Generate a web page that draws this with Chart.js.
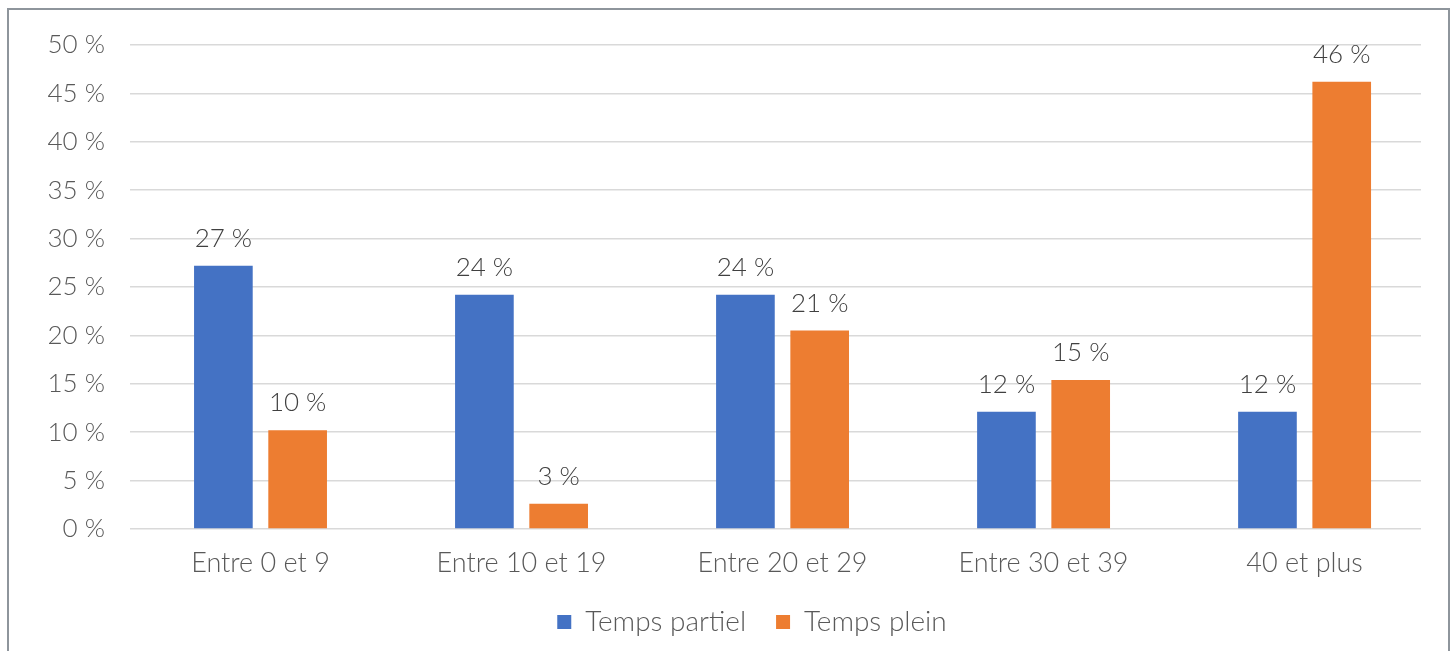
<!DOCTYPE html>
<html>
<head>
<meta charset="utf-8">
<script src="https://cdn.jsdelivr.net/npm/chart.js@4"></script>
<style>
    html, body { margin: 0; padding: 0; background: #fff; overflow: hidden; }
    #wrap { position: relative; width: 1453px; height: 651px; }
    #frame {
        position: absolute; left: 7px; top: 8px; width: 1439px; height: 700px;
        border: 2px solid #8e959c; pointer-events: none;
    }
</style>
</head>
<body>
<div id="wrap">
    <canvas id="myChart" width="1453" height="651"></canvas>
    <div id="frame"></div>
</div>
<script>
const categories = ['Entre 0 et 9', 'Entre 10 et 19', 'Entre 20 et 29', 'Entre 30 et 39', '40 et plus'];
const partiel = [27.2, 24.2, 24.2, 12.1, 12.1];
const plein = [10.2, 2.6, 20.5, 15.4, 46.2];
const yTicks = [0, 5, 10, 15, 20, 25, 30, 35, 40, 45, 50];

const FONT = 'Lato, "Open Sans", sans-serif';
const font = { family: FONT, size: 26, weight: '300' };

// labels above each bar, like Excel's outside-end data labels
const barLabels = {
    id: 'barLabels',
    afterLayout(chart) {
        // Excel centres the legend a bit right of the canvas middle
        const leg = chart.legend;
        const dx = 752 - (leg.left + leg.right) / 2;
        leg.left += dx;
        leg.right += dx;
    },
    afterDatasetsDraw(chart) {
        const ctx = chart.ctx;
        ctx.save();
        ctx.font = '300 26px ' + FONT;
        ctx.fillStyle = '#404040';
        ctx.textAlign = 'center';
        ctx.textBaseline = 'alphabetic';
        chart.data.datasets.forEach((ds, i) => {
            chart.getDatasetMeta(i).data.forEach((bar, j) => {
                ctx.fillText(Math.round(ds.data[j]) + ' %', bar.x, bar.y - 19);
            });
        });
        ctx.restore();
    }
};

const data = {
    labels: categories,
    datasets: [{
        label: 'Temps partiel',
        backgroundColor: '#4472c4',
        data: partiel,
    }, {
        label: 'Temps plein',
        backgroundColor: '#ed7d31',
        data: plein,
    }]
};

const config = {
    type: 'bar',
    data: data,
    plugins: [barLabels],
    options: {
        responsive: false,
        animation: false,
        categoryPercentage: 0.569,
        barPercentage: 0.79,
        layout: { padding: { left: 0, right: 32, top: 45, bottom: 5 } },
        plugins: {
            tooltip: { enabled: false },
            legend: {
                position: 'bottom',
                labels: {
                    boxWidth: 14,
                    boxHeight: 14,
                    padding: 30,
                    color: '#595959',
                    font: { family: FONT, size: 28, weight: '300' }
                }
            }
        },
        scales: {
            x: {
                // the last category runs a little past the plot edge, as in the original
                afterBuildTicks(scale) { scale._valueRange = 4.946; },
                grid: { display: false },
                border: { display: false },
                ticks: {
                    color: '#595959',
                    padding: 10,
                    font: { family: FONT, size: 27, weight: '300' }
                },
                afterFit(scale) { scale.height = 49; }
            },
            y: {
                min: 0,
                max: 50,
                afterBuildTicks(scale) { scale.ticks = yTicks.map(v => ({ value: v })); },
                grid: { color: '#d9d9d9', lineWidth: 1.5, drawTicks: false },
                border: { display: false },
                ticks: {
                    color: '#595959',
                    padding: 25,
                    font: font,
                    callback: v => v + ' %'
                },
                afterFit(scale) { scale.width = 130; }
            }
        }
    }
};

const myChart = new Chart(document.getElementById('myChart'), config);
</script>
</body>
</html>
